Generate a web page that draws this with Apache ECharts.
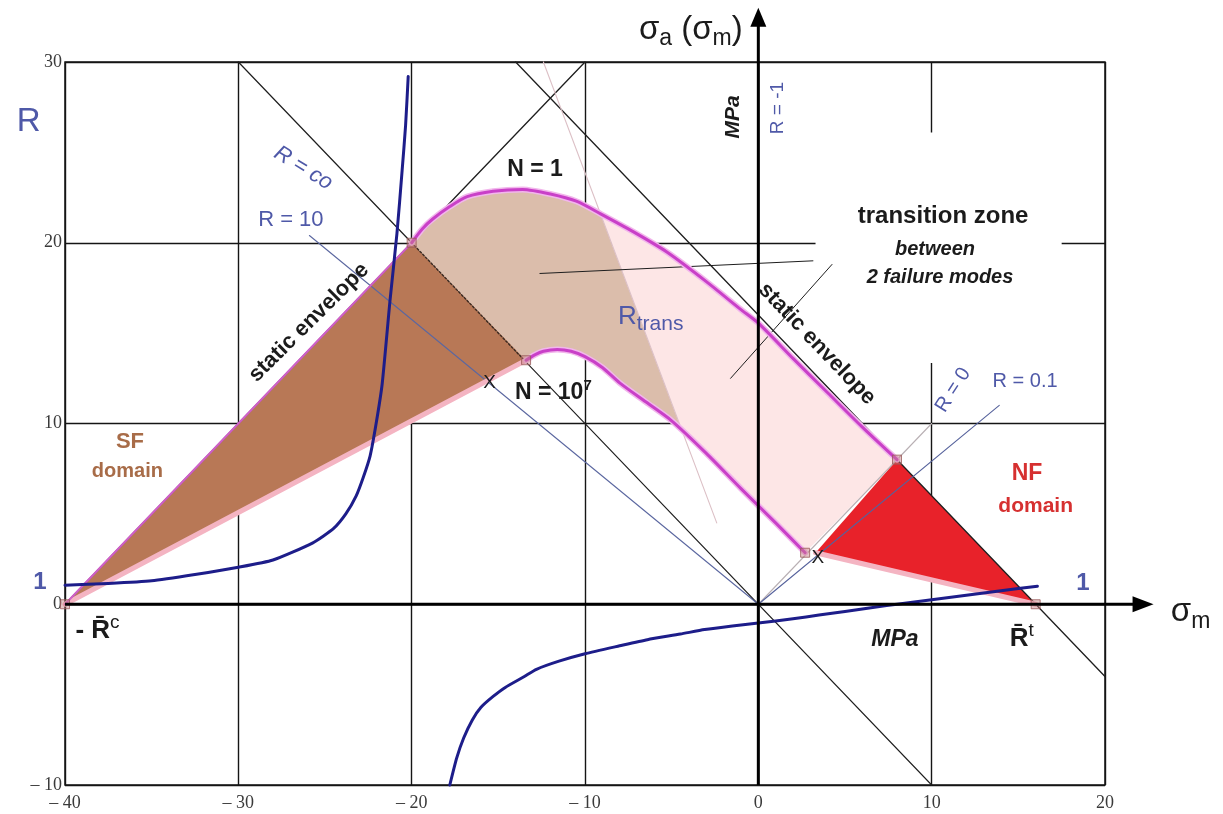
<!DOCTYPE html>
<html>
<head>
<meta charset="utf-8">
<script src="https://cdn.jsdelivr.net/npm/echarts@6/dist/echarts.min.js"></script>
<style>
  html, body { margin: 0; padding: 0; background: #fff; }
  #chart { width: 1223px; height: 814px; }
</style>
</head>
<body>
<div id="chart"></div>
<script>
// ---- axis ticks ----
const xTicks = [-40, -30, -20, -10, 0, 10, 20];
const yTicks = [-10, 0, 10, 20, 30];

// ---- straight reference lines, [σm, σa] ----
const envelopeLeft  = [[-40, 0], [-10, 30]];
const envelopeRight = [[-14, 30], [20, -4]];
const lineRinf      = [[-30, 30], [-20, 20], [-13.4, 13.4], [10, -10]];
const lineR10       = [[-25.9, 20.4], [0, 0]];
const lineR0        = [[0, 0], [10, 10]];
const lineR01       = [[0, 0], [13.9, 11.0]];
const lineRtrans    = [[-12.4, 30], [-2.4, 4.5]];
const leaderA       = [[-12.6, 18.3], [3.15, 19.0]];
const leaderB       = [[-1.6, 12.5], [4.25, 18.8]];
const xAxisLine     = [[-40, 0], [22.8, 0]];
const yAxisLine     = [[0, -10], [0, 33.0]];

// ---- fatigue curves ----
const curveN1 = [[-20, 20], [-19.4, 20.75], [-18.8, 21.3], [-17.8, 22.0], [-16.8, 22.55],
  [-15.3, 22.85], [-13.6, 22.95], [-12, 22.7], [-10.5, 22.3], [-9.1, 21.6], [-7.2, 20.6],
  [-5.3, 19.5], [-3, 17.85], [-1, 16.3], [0, 15.55], [2, 13.6], [4, 11.7], [6, 9.8], [8, 8]];
const curveN7 = [[-13.4, 13.5], [-12.9, 13.8], [-12.4, 14.0], [-11.6, 14.1], [-10.8, 14.0],
  [-10, 13.7], [-9, 13.1], [-8, 12.25], [-6.5, 11.2], [-5, 10.15], [-3, 8.35], [-1, 6.4],
  [1, 4.5], [2.7, 2.85]];

// ---- stress ratio R along the envelope ----
const rLeft = [[-40, 1.05], [-37.5, 1.15], [-35, 1.3], [-32.5, 1.65], [-30, 2.05], [-28, 2.45],
  [-25.7, 3.4], [-24.5, 4.2], [-23.8, 5.0], [-23.2, 6.0], [-22.8, 7.0], [-22.4, 8.2],
  [-22.05, 10], [-21.7, 12.2], [-21.25, 16.8], [-20.85, 20.5], [-20.55, 24.0], [-20.35, 26.5],
  [-20.2, 29.2]];
const rRight = [[-17.8, -10], [-17.4, -8.5], [-17.0, -7.4], [-16.5, -6.4], [-16.0, -5.7],
  [-15.3, -5.1], [-14.6, -4.6], [-13.5, -4.0], [-12.8, -3.6], [-11.5, -3.15], [-10, -2.74],
  [-8, -2.3], [-6.4, -1.96], [-4.5, -1.65], [-3.1, -1.4], [-1.5, -1.2], [0, -1.04], [2, -0.8],
  [3.5, -0.6], [5, -0.4], [6.8, -0.15], [8, 0.0], [10, 0.25], [12, 0.5], [14, 0.75], [16.1, 1.0]];

// ---- domains ----
const sfDomain = [[-40, 0], [-20, 20], [-13.4, 13.5]];
const nfDomain = [[8, 8], [16, 0], [3.3, 2.85]];
const transitionSplit = [[-12.4, 30], [-4.6, 10.1]];
const sfLowerEdge = [[-40, 0], [-13.4, 13.5]];
const sfUpperEdge = [[-40, 0], [-20, 20]];
const nfLowerEdge = [[3.3, 2.85], [16, 0]];
const keyPoints = [[-40, 0], [-20, 20], [-13.4, 13.5], [2.7, 2.85], [8, 8], [16, 0]];
const crossPoints = [[-15.5, 12.25], [3.44, 2.56]];
const noteBox = [[3.3, 13.35], [17.5, 26.1]];

// ---- styling ----
const SANS = '"Liberation Sans", Arial, Helvetica, sans-serif';
const SERIF = '"Liberation Serif", "Times New Roman", serif';
const BLUE = '#4f59a8';
const INK = '#1b1b1b';
const BROWN_TXT = '#a86c48';
const RED_TXT = '#d63030';

// split a polygon by the line through a and b, keeping one side
function clipHalf(poly, a, b, sign) {
  const side = p => sign * ((b[0] - a[0]) * (p[1] - a[1]) - (b[1] - a[1]) * (p[0] - a[0]));
  const out = [];
  for (let i = 0; i < poly.length; i++) {
    const p = poly[i], q = poly[(i + 1) % poly.length];
    const sp = side(p), sq = side(q);
    if (sp >= 0) out.push(p);
    if ((sp >= 0) !== (sq >= 0)) {
      const t = sp / (sp - sq);
      out.push([p[0] + t * (q[0] - p[0]), p[1] + t * (q[1] - p[1])]);
    }
  }
  return out;
}

const transitionPoly = curveN1.concat(curveN7.slice().reverse());
const transBrown = clipHalf(transitionPoly, transitionSplit[0], transitionSplit[1], -1);
const transPink  = clipHalf(transitionPoly, transitionSplit[0], transitionSplit[1], 1);
const boxPoly = [[noteBox[0][0], noteBox[0][1]], [noteBox[1][0], noteBox[0][1]],
                 [noteBox[1][0], noteBox[1][1]], [noteBox[0][0], noteBox[1][1]]];

function areaSeries(name, poly, color, z) {
  return {
    type: 'custom', name, z, silent: true, clip: false,
    data: [poly[0]],
    renderItem: (params, api) => ({
      type: 'polygon',
      shape: { points: poly.map(p => api.coord(p)) },
      style: { fill: color }
    })
  };
}

function lineSeries(name, pts, color, width, z, dash, smooth) {
  return {
    type: 'line', name, data: pts, z, silent: true, clip: false,
    showSymbol: false, symbol: 'none', smooth: smooth || false,
    lineStyle: { color, width, type: dash || 'solid', cap: 'round', join: 'round' }
  };
}

function tok(size, color, weight, style, extra) {
  return Object.assign({ fontSize: size, fontFamily: SANS, fontWeight: weight || 'normal',
    fontStyle: style || 'normal', fill: color, verticalAlign: 'middle' }, extra || {});
}

// text annotations, anchored in data coordinates
const notes = [
  { at: [-0.9, 31.75], align: 'right', text: '{b|σ}{s|a}{b| (σ}{s|m}{b|)}',
    rich: { b: tok(33, INK), s: tok(23, INK, 'normal', 'normal', { padding: [17, 0, 0, 0] }) } },
  { at: [23.8, -0.45], align: 'left', text: '{b|σ}{s|m}',
    rich: { b: tok(33, INK), s: tok(23, INK, 'normal', 'normal', { padding: [18, 0, 0, 0] }) } },
  { at: [-1.46, 26.96], rot: Math.PI / 2, text: 'MPa', s: tok(21, INK, 'bold', 'italic') },
  { at: [1.14, 27.45], rot: Math.PI / 2, text: 'R = -1', s: tok(19, BLUE) },
  { at: [7.88, -1.97], text: 'MPa', s: tok(23, INK, 'bold', 'italic') },
  { at: [-42.1, 26.7], text: 'R', s: tok(33, BLUE) },
  { at: [-41.45, 1.2], text: '1', s: tok(24, BLUE, 'bold') },
  { at: [18.73, 1.18], text: '1', s: tok(24, BLUE, 'bold') },
  { at: [-39.4, -1.45], align: 'left', text: '{r|- R\u0304}{c|c}',
    rich: { r: tok(26, INK, 'bold'), c: tok(19, INK, 'normal', 'normal', { padding: [0, 0, 16, 0] }) } },
  { at: [14.5, -1.9], align: 'left', text: '{r|R\u0304}{c|t}',
    rich: { r: tok(26, INK, 'bold'), c: tok(19, INK, 'normal', 'normal', { padding: [0, 0, 16, 0] }) } },
  { at: [-36.25, 9.0], text: 'SF', s: tok(22, BROWN_TXT, 'bold') },
  { at: [-36.4, 7.35], text: 'domain', s: tok(20, BROWN_TXT, 'bold') },
  { at: [15.5, 7.2], text: 'NF', s: tok(23, RED_TXT, 'bold') },
  { at: [16.0, 5.4], text: 'domain', s: tok(21, RED_TXT, 'bold') },
  { at: [-12.88, 24.02], text: 'N = 1', s: tok(23, INK, 'bold') },
  { at: [-14.04, 11.69], align: 'left', text: '{n|N = 10}{p|7}',
    rich: { n: tok(23, INK, 'bold'), p: tok(15, INK, 'bold', 'normal', { padding: [0, 0, 14, 0] }) } },
  { at: [-8.1, 15.9], align: 'left', text: '{r|R}{t|trans}',
    rich: { r: tok(26, BLUE), t: tok(21, BLUE, 'normal', 'normal', { padding: [14, 0, 0, 0] }) } },
  { at: [-25.93, 15.59], rot: 0.78, text: 'static envelope', s: tok(22, INK, 'bold') },
  { at: [3.38, 14.4], rot: -0.81, text: 'static envelope', s: tok(22, INK, 'bold') },
  { at: [10.66, 21.47], text: 'transition zone', s: tok(24, INK, 'bold') },
  { at: [10.19, 19.65], text: 'between', s: tok(20, INK, 'bold', 'italic') },
  { at: [10.48, 18.1], text: '2 failure modes', s: tok(20, INK, 'bold', 'italic') },
  { at: [-26.97, 21.26], text: 'R = 10', s: tok(22, BLUE) },
  { at: [-26.25, 24.13], rot: -0.55, text: 'R = co', s: tok(22, BLUE, 'normal', 'italic') },
  { at: [11.24, 11.85], rot: 1.0, text: 'R = 0', s: tok(20, BLUE) },
  { at: [15.39, 12.3], text: 'R = 0.1', s: tok(20, BLUE) },
  { at: crossPoints[0], text: 'X', s: tok(19, INK) },
  { at: crossPoints[1], text: 'X', s: tok(19, INK) }
];

const chart = echarts.init(document.getElementById('chart'), null, { renderer: 'canvas' });

const option = {
  animation: false,
  backgroundColor: '#ffffff',
  grid: { left: 65, right: 118, top: 62, bottom: 29, show: true,
          borderColor: '#151515', borderWidth: 1.5, backgroundColor: 'transparent' },
  xAxis: {
    type: 'value', min: xTicks[0], max: xTicks[xTicks.length - 1], interval: 10,
    axisLine: { show: false }, axisTick: { show: false },
    splitLine: { show: true, lineStyle: { color: '#151515', width: 1.4 } },
    axisLabel: {
      margin: 9, color: '#3a3a3a', fontFamily: SERIF, fontSize: 18,
      formatter: v => (v < 0 ? '\u2013 ' + (-v) : String(v))
    }
  },
  yAxis: {
    type: 'value', min: yTicks[0], max: yTicks[yTicks.length - 1], interval: 10,
    axisLine: { show: false }, axisTick: { show: false },
    splitLine: { show: true, lineStyle: { color: '#151515', width: 1.4 } },
    axisLabel: {
      margin: 3, color: '#3a3a3a', fontFamily: SERIF, fontSize: 18,
      formatter: v => (v < 0 ? '\u2013 ' + (-v) : String(v))
    }
  },
  series: [
    // white panel behind the transition-zone caption
    areaSeries('noteBox', boxPoly, '#ffffff', 1),
    // domains
    areaSeries('transBrown', transBrown, '#dbbdab', 2),
    areaSeries('transPink', transPink, '#fde6e6', 2),
    areaSeries('sf', sfDomain, '#b87856', 2),
    areaSeries('nf', nfDomain, '#e8222a', 2),

    // thin reference lines
    lineSeries('envLeft', envelopeLeft, '#1e1e1e', 1.3, 3),
    lineSeries('envRight', envelopeRight, '#1e1e1e', 1.3, 3),
    lineSeries('rInfA', lineRinf.slice(0, 2), '#1e1e1e', 1.2, 3),
    lineSeries('rInfB', lineRinf.slice(1, 3), '#3a2a22', 1.4, 3, [2, 2]),
    lineSeries('rInfC', lineRinf.slice(2, 4), '#1e1e1e', 1.1, 3),
    lineSeries('r10', lineR10, '#5b67a0', 1.1, 3),
    lineSeries('r0', lineR0, '#b9b0b4', 1.1, 3),
    lineSeries('r01', lineR01, '#56629c', 1.1, 3),
    lineSeries('rTrans', lineRtrans, '#dcc0c6', 1.1, 3),
    lineSeries('leaderA', leaderA, '#1e1e1e', 1, 3),
    lineSeries('leaderB', leaderB, '#1e1e1e', 1, 3),

    // domain edges
    lineSeries('sfLow', sfLowerEdge, '#f4b4c2', 5, 4),
    lineSeries('nfLow', nfLowerEdge, '#f4b4c2', 5, 4),
    lineSeries('sfUp', sfUpperEdge, '#d060c8', 2, 4),
    lineSeries('n1Halo', curveN1, '#f2b6ec', 6, 4, 'solid', 0.25),
    lineSeries('n7Halo', curveN7, '#f2b6ec', 6, 4, 'solid', 0.25),
    lineSeries('n1', curveN1, '#c940c8', 3, 5, 'solid', 0.25),
    lineSeries('n7', curveN7, '#c940c8', 3, 5, 'solid', 0.25),

    // stress ratio curve
    lineSeries('rLeft', rLeft, '#1d1d8a', 3, 6, 'solid', 0.2),
    lineSeries('rRight', rRight, '#1d1d8a', 3, 6, 'solid', 0.2),

    // corner points
    {
      type: 'scatter', name: 'keyPoints', data: keyPoints, z: 7, silent: true, clip: false,
      symbol: 'rect', symbolSize: 9,
      itemStyle: { color: 'rgba(196,128,128,0.55)', borderColor: '#9a5a5a', borderWidth: 1 }
    },

    // σm and σa axes with arrow heads
    {
      type: 'custom', name: 'axes', z: 8, silent: true, clip: false,
      data: [xAxisLine[0]],
      renderItem: (params, api) => {
        const x0 = api.coord(xAxisLine[0]), x1 = api.coord(xAxisLine[1]);
        const y0 = api.coord(yAxisLine[0]), y1 = api.coord(yAxisLine[1]);
        return {
          type: 'group',
          children: [
            { type: 'line', shape: { x1: x0[0], y1: x0[1], x2: x1[0] - 16, y2: x1[1] },
              style: { stroke: '#000', lineWidth: 3 } },
            { type: 'polygon', shape: { points: [[x1[0], x1[1]], [x1[0] - 21, x1[1] - 8], [x1[0] - 21, x1[1] + 8]] },
              style: { fill: '#000' } },
            { type: 'line', shape: { x1: y0[0], y1: y0[1], x2: y1[0], y2: y1[1] + 14 },
              style: { stroke: '#000', lineWidth: 3 } },
            { type: 'polygon', shape: { points: [[y1[0], y1[1]], [y1[0] - 8, y1[1] + 19], [y1[0] + 8, y1[1] + 19]] },
              style: { fill: '#000' } }
          ]
        };
      }
    },

    // captions
    {
      type: 'custom', name: 'notes', z: 10, silent: true, clip: false,
      data: notes.map(n => n.at),
      renderItem: (params, api) => {
        const n = notes[params.dataIndex];
        const p = api.coord([api.value(0), api.value(1)]);
        const style = Object.assign({}, n.s || {}, {
          text: n.text, align: n.align || 'center', verticalAlign: 'middle'
        });
        if (n.rich) style.rich = n.rich;
        return { type: 'text', x: p[0], y: p[1], rotation: n.rot || 0, style };
      }
    }
  ]
};

chart.setOption(option);
</script>
</body>
</html>
